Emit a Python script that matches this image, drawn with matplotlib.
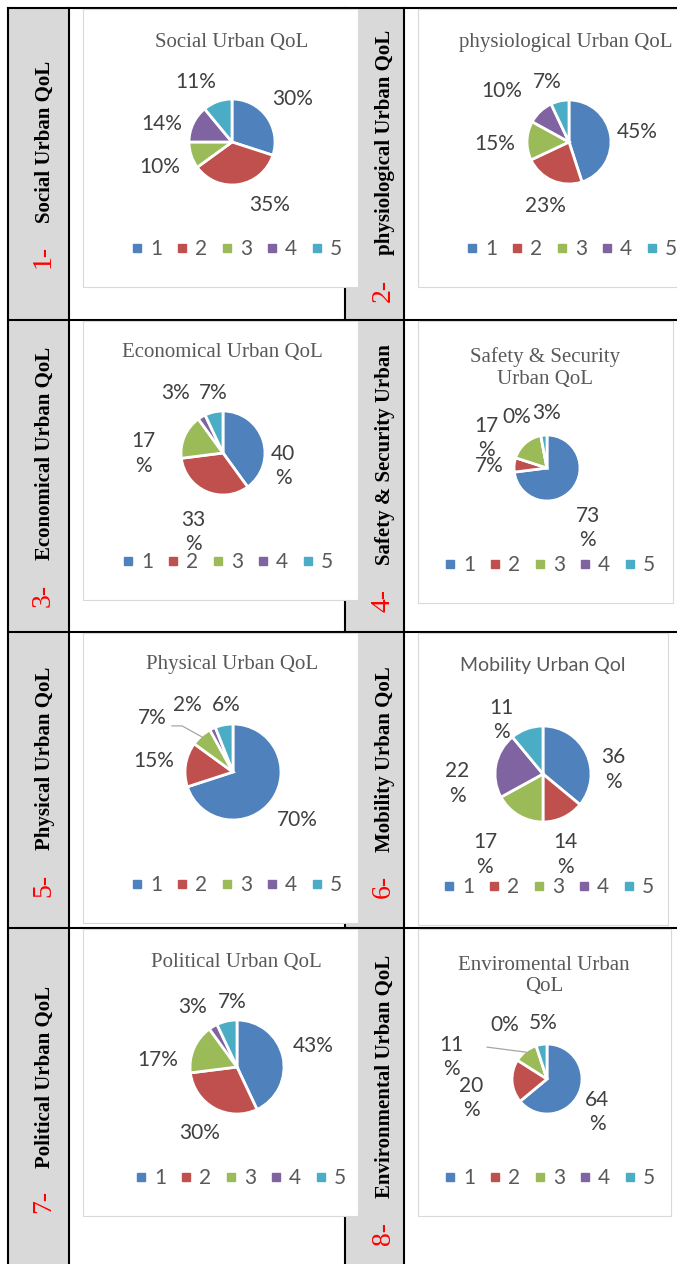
import matplotlib
matplotlib.use("Agg")
import matplotlib.pyplot as plt
from matplotlib.patches import Rectangle
from matplotlib.lines import Line2D
import numpy as np

# ---------------- data ----------------
categories = ["1", "2", "3", "4", "5"]

social = [30, 35, 10, 14, 11]
physiological = [45, 23, 15, 10, 7]
economical = [40, 33, 17, 3, 7]
safety = [73, 7, 17, 0, 3]
physical = [70, 15, 7, 2, 6]
mobility = [36, 14, 17, 22, 11]
political = [43, 30, 17, 3, 7]
environmental = [64, 20, 11, 0, 5]

row_names = ["Social Urban QoL", "physiological Urban QoL",
             "Economical Urban QoL", "Safety & Security Urban",
             "Physical Urban QoL", "Mobility Urban QoL",
             "Political Urban QoL", "Environmental Urban QoL"]
row_numbers = ["1-", "2-", "3-", "4-", "5-", "6-", "7-", "8-"]
chart_titles = ["Social Urban QoL", "physiological Urban QoL",
                "Economical Urban QoL", "Safety & Security\nUrban QoL",
                "Physical Urban QoL", "Mobility Urban Qol",
                "Political Urban QoL", "Enviromental Urban\nQoL"]
series = [social, physiological, economical, safety,
          physical, mobility, political, environmental]

# ---------------- styling ----------------
COLORS = ["#4F81BD", "#C0504D", "#9BBB59", "#8064A2", "#4BACC6"]
GREY_COL = "#D9D9D9"
TEXT_GREY = "#595959"
LABEL_GREY = "#404040"
SERIF = "Liberation Serif"
SANS = "Lato"

W, H = 677, 1264
fig = plt.figure(figsize=(W / 100, H / 100), dpi=100)


def fx(x):
    return x / W


def fy(y):
    return 1 - y / H


# table: grey label columns
for x0, x1 in [(8, 69), (345, 404)]:
    fig.add_artist(Rectangle((fx(x0), 0), fx(x1) - fx(x0), fy(8),
                             transform=fig.transFigure, facecolor=GREY_COL,
                             edgecolor="none", zorder=0.1))
# table rules
for x in [8, 69, 345, 404]:
    fig.add_artist(Line2D([fx(x), fx(x)], [fy(8), 0], transform=fig.transFigure,
                          color="black", lw=1.5, zorder=0.2))
for y in [8, 320, 632, 928]:
    fig.add_artist(Line2D([fx(8), 1], [fy(y), fy(y)], transform=fig.transFigure,
                          color="black", lw=1.5, zorder=0.2))

# per-cell layout (pixel positions on the page)
layout = [
    dict(box=(83, 9, 358, 287), c=(232, 142), r=43, title=(232, 43), tfont=SERIF,
         leg=(237, 249), lab=[(1.40, 1.00), (0.88, -1.47), (-1.67, -0.58), (-1.63, 0.42), (-0.84, 1.40)],
         wrap=[0, 0, 0, 0, 0], name=(50, 223), num=268),
    dict(box=(418, 9, 690, 287), c=(569, 142), r=42, title=(566, 42), tfont=SERIF,
         leg=(572, 249), lab=[(1.62, 0.24), (-0.57, -1.52), (-1.76, -0.05), (-1.60, 1.21), (-0.52, 1.43)],
         wrap=[0, 0, 0, 0, 0], name=(390, 255), num=302),
    dict(box=(83, 321, 358, 600), c=(223, 453), r=42, title=(222, 353), tfont=SERIF,
         leg=(228, 562), lab=[(1.43, -0.31), (-0.71, -1.88), (-1.90, -0.02), (-1.12, 1.43), (-0.24, 1.43)],
         wrap=[1, 1, 1, 0, 0], name=(50, 560), num=607),
    dict(box=(418, 321, 673, 603), c=(547, 468), r=33, title=(545, 368), tfont=SERIF,
         leg=(550, 565), lab=[(1.24, -1.82), (-1.76, 0.06), (-1.85, 0.91), (-0.91, 1.55), (0.0, 1.67)],
         wrap=[1, 0, 1, 0, 0], name=(390, 565), num=612),
    dict(box=(83, 633, 358, 923), c=(233, 772), r=48, title=(232, 665), tfont=SERIF,
         leg=(237, 885), lab=[(1.35, -1.0), (-1.65, 0.23), (-1.69, 1.13), (-0.96, 1.40), (-0.15, 1.40)],
         wrap=[0, 0, 0, 0, 0], name=(50, 850), num=897,
         leader=(2, [(-1.27, 0.96), (-1.06, 0.96)])),
    dict(box=(418, 633, 668, 925), c=(543, 774), r=48, title=(543, 665), tfont=SANS,
         leg=(549, 887), lab=[(1.46, 0.10), (0.46, -1.67), (-1.21, -1.67), (-1.79, -0.19), (-0.875, 1.125)],
         wrap=[1, 1, 1, 1, 1], name=(390, 852), num=898),
    dict(box=(83, 929, 358, 1216), c=(237, 1067), r=47, title=(236, 963), tfont=SERIF,
         leg=(241, 1178), lab=[(1.62, 0.45), (-0.79, -1.40), (-1.68, 0.15), (-0.94, 1.28), (-0.11, 1.38)],
         wrap=[0, 0, 0, 0, 0], name=(50, 1168), num=1213),
    dict(box=(418, 929, 671, 1216), c=(547, 1079), r=35, title=(544, 976), tfont=SERIF,
         leg=(550, 1178), lab=[(1.43, -0.94), (-2.17, -0.54), (-2.74, 0.63), (-1.20, 1.54), (-0.11, 1.60)],
         wrap=[1, 1, 1, 0, 0], name=(390, 1198), num=1245,
         leader=(2, [(-1.71, 0.91)])),
]

A = 140  # half-size (px) of each pie's drawing area

for i, spec in enumerate(layout):
    vals = series[i]
    x0, y0, x1, y1 = spec["box"]
    # chart area frame
    fig.add_artist(Rectangle((fx(x0), fy(y1)), fx(x1) - fx(x0), fy(y0) - fy(y1),
                             transform=fig.transFigure, facecolor="white",
                             edgecolor="#D9D9D9", lw=0.8, zorder=0.3))

    # row caption in the grey column
    nx, ny = spec["name"]
    fig.text(fx(nx), fy(ny), row_names[i], rotation=90, rotation_mode="anchor",
             ha="left", va="baseline", family=SERIF, weight="bold",
             fontsize=15, color="black", zorder=3)
    fig.text(fx(nx), fy(spec["num"]), row_numbers[i], rotation=90,
             rotation_mode="anchor", ha="left", va="baseline", family=SERIF,
             fontsize=20, color="#FF0000", zorder=3)

    # title
    tx, ty = spec["title"]
    fig.text(fx(tx), fy(ty), chart_titles[i], ha="center", va="center",
             family=spec["tfont"], fontsize=15 if spec["tfont"] == SERIF else 14,
             color=TEXT_GREY, linespacing=1.2, zorder=3)

    # pie
    cx, cy = spec["c"]
    r = spec["r"]
    ax = fig.add_axes([fx(cx - A), fy(cy + A), 2 * A / W, 2 * A / H], zorder=1)
    wedges, _ = ax.pie(vals, colors=COLORS, startangle=90, counterclock=False,
                       radius=1, wedgeprops=dict(edgecolor="white", linewidth=2.0))
    ax.set_xlim(-A / r, A / r)
    ax.set_ylim(-A / r, A / r)
    ax.set_aspect("equal")
    ax.axis("off")

    for k, v in enumerate(vals):
        lx, ly = spec["lab"][k]
        txt = f"{v}\n%" if spec["wrap"][k] else f"{v}%"
        ax.text(lx, ly, txt, ha="center", va="center", family=SANS, fontsize=15,
                color=LABEL_GREY, linespacing=1.3, zorder=5, clip_on=False)

    if "leader" in spec:
        k, pts = spec["leader"]
        w = wedges[k]
        th = np.deg2rad((w.theta1 + w.theta2) / 2)
        xs = [p[0] for p in pts] + [np.cos(th) * 0.97]
        ys = [p[1] for p in pts] + [np.sin(th) * 0.97]
        ax.plot(xs, ys, color="#A6A6A6", lw=0.9, zorder=4, clip_on=False)

    handles = [Line2D([], [], marker="s", linestyle="", markersize=6,
                      markerfacecolor=c, markeredgecolor=c) for c in COLORS]
    lgx, lgy = spec["leg"]
    leg = ax.legend(handles, categories, loc="center", bbox_to_anchor=(fx(lgx), fy(lgy)),
                    bbox_transform=fig.transFigure, ncol=5, frameon=False,
                    handlelength=0.5, handletextpad=0.38, columnspacing=0.7,
                    borderpad=0, borderaxespad=0,
                    prop=dict(family=SANS, size=15))
    for t in leg.get_texts():
        t.set_color(TEXT_GREY)

fig.savefig("out.png", dpi=100)
